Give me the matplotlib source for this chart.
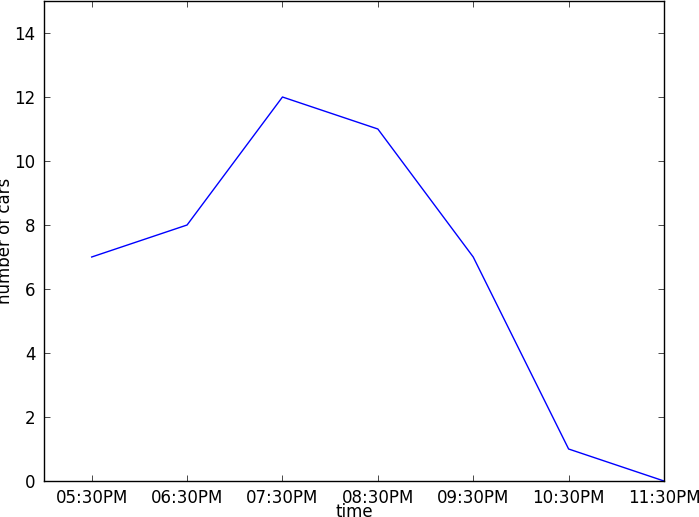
import matplotlib
matplotlib.use("Agg")
import matplotlib.pyplot as plt

# data
times = ["05:30PM", "06:30PM", "07:30PM", "08:30PM", "09:30PM", "10:30PM", "11:30PM"]
cars = [7, 8, 12, 11, 7, 1, 0]

plt.rcParams["font.size"] = 12
plt.rcParams["font.family"] = "DejaVu Sans"

fig = plt.figure(figsize=(6.99, 5.17), dpi=100)
ax = fig.add_axes([44 / 699, 36 / 517, 620 / 699, 480 / 517])

x = list(range(len(times)))
ax.plot(x, cars, color="#0000ff", linewidth=1)

ax.set_xlim(-0.5, 6)
ax.set_ylim(0, 15)
ax.set_xticks(x)
ax.set_xticklabels(times)
ax.set_yticks(range(0, 15, 2))
ax.tick_params(direction="in", top=True, right=True, length=4, width=0.5, pad=6)
for s in ax.spines.values():
    s.set_linewidth(1)

ax.set_xlabel("time")
ax.set_ylabel("number of cars")
ax.xaxis.set_label_coords(0.5, -0.046)
ax.yaxis.set_label_coords(-0.048, 0.5)

fig.savefig("out.png", dpi=100)
